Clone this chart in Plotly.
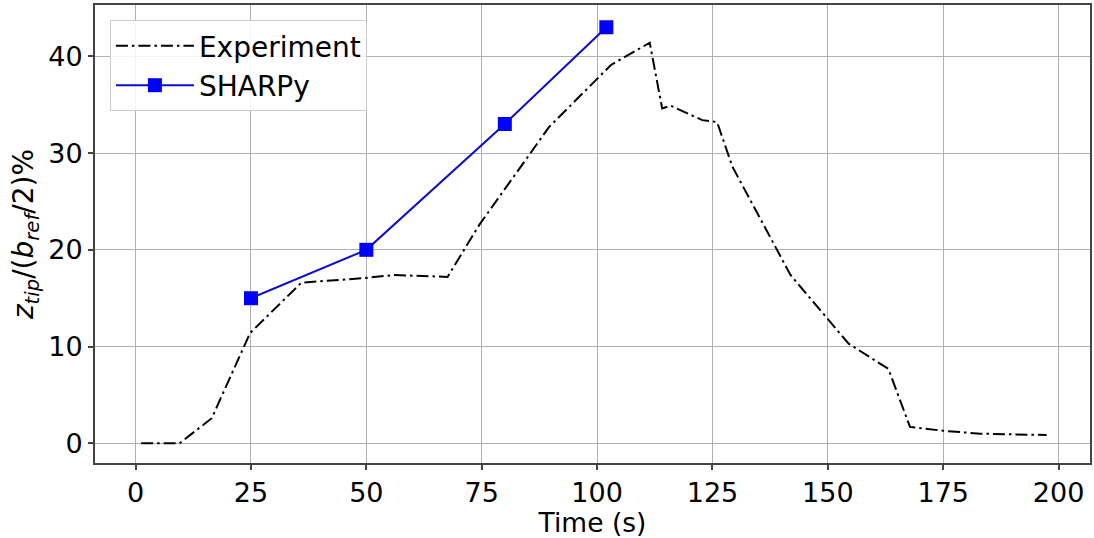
import plotly.graph_objects as go

exp_t = [1.2, 9.5, 16.5, 24.8, 35.9, 50.0, 56.1, 67.6, 74.5, 89.6, 103.0, 111.4, 114.1, 115.9,
         122.8, 126.0, 129.3, 141.9, 154.5, 163.1, 167.8, 175.0, 183.0, 197.4]
exp_z = [0.0, 0.0, 2.6, 11.4, 16.6, 17.1, 17.4, 17.2, 22.6, 32.7, 39.1, 41.4, 34.6, 34.9,
         33.4, 33.2, 28.6, 17.4, 10.3, 7.7, 1.7, 1.3, 1.0, 0.86]

sharpy_t = [25, 50, 80, 102]
sharpy_z = [15.0, 20.0, 33.0, 43.0]

x_ticks = [0, 25, 50, 75, 100, 125, 150, 175, 200]
y_ticks = [0, 10, 20, 30, 40]

font = "DejaVu Sans"

fig = go.Figure()
fig.add_trace(go.Scatter(
    x=exp_t, y=exp_z, mode="lines", name="Experiment",
    line=dict(color="black", width=2, dash="12px,4px,2.5px,4px"),
))
fig.add_trace(go.Scatter(
    x=sharpy_t, y=sharpy_z, mode="lines+markers", name="SHARPy",
    line=dict(color="#0a0ad0", width=2),
    marker=dict(symbol="square", size=14, color="#0000ff"),
))

axis_common = dict(
    showgrid=True, gridcolor="#b0b0b0", gridwidth=1,
    showline=True, linecolor="#444444", linewidth=2, mirror=True,
    ticks="outside", ticklen=5, tickwidth=1.5, tickcolor="#444444",
    tickfont=dict(family=font, size=27, color="black"),
    zeroline=False,
)

fig.update_xaxes(
    range=[-8.8, 206.8], tickvals=x_ticks,
    title=dict(text="Time (s)", font=dict(family=font, size=26.5, color="black"), standoff=0),
    **axis_common,
)
fig.update_yaxes(
    range=[-2.03, 45.3], tickvals=y_ticks,
    title=dict(text="<i>z</i><sub><i>tip</i></sub>/(<i>b</i><sub><i>ref</i></sub>/2)%",
               font=dict(family=font, size=28, color="black"), standoff=6),
    **axis_common,
)

fig.update_layout(
    width=1094, height=538,
    margin=dict(l=95, r=2, t=5, b=75),
    plot_bgcolor="white", paper_bgcolor="white",
    font=dict(family=font, size=28, color="black"),
    legend=dict(
        x=0.015, y=0.967, xanchor="left", yanchor="top",
        bgcolor="rgba(255,255,255,0.85)", bordercolor="#cccccc", borderwidth=1,
        font=dict(family=font, size=28, color="black"),
        itemwidth=78, tracegroupgap=0,
    ),
    showlegend=True,
)

fig.write_html("out.html")
